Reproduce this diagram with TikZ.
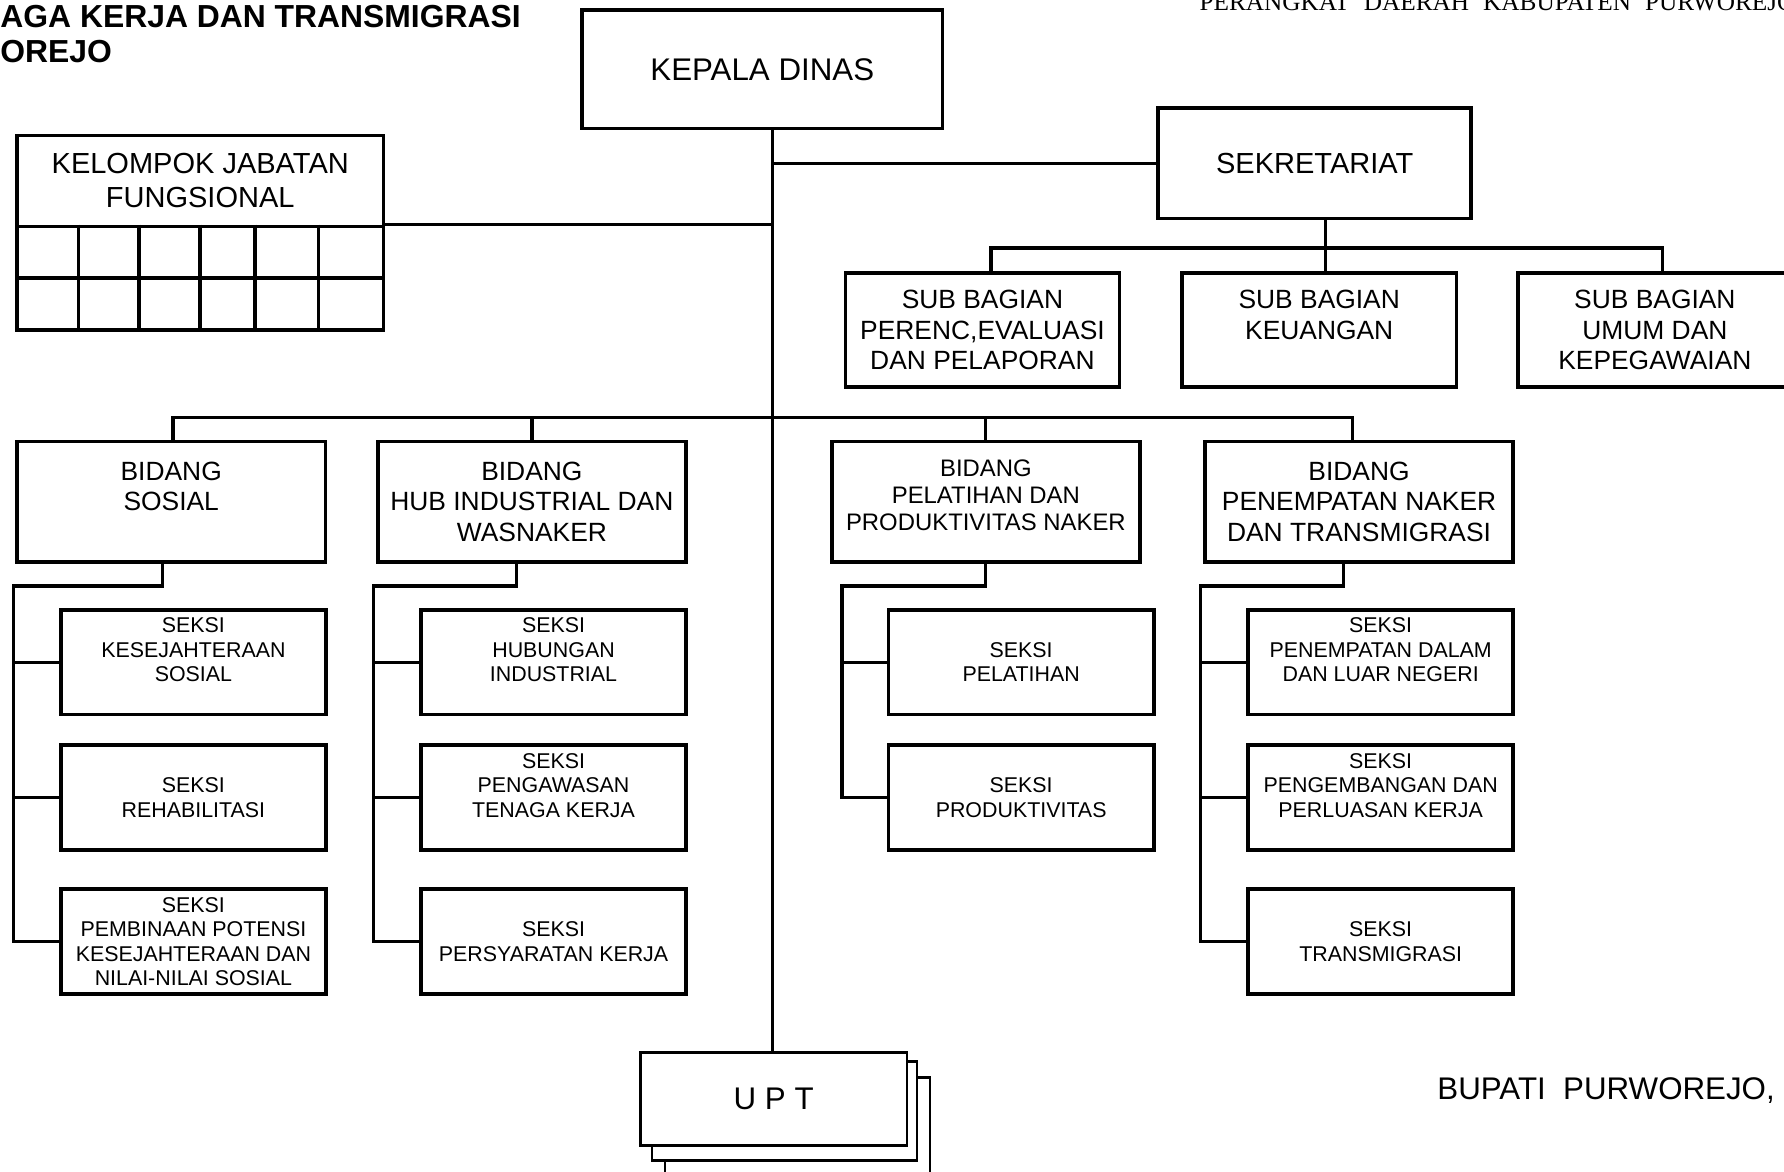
\documentclass[tikz,border=0pt]{standalone}
\usepackage{fontspec}
\setmainfont{Liberation Sans}
\newfontfamily\headserif{Liberation Serif}
\newcommand\headfont{\headserif\fontsize{11.1}{13}\selectfont\spaceskip 6.2pt\relax}
\tikzset{
	box/.style = {
		draw=black,
		fill=white,
		rectangle,
		align=center,
		inner sep=0pt,
		line width=1.6pt
	},
	box_top/.style = {
		box,
		font=\fontsize{13.75}{15}\selectfont,
		minimum width=158.5pt,
		minimum height=52pt
	},
	box_sek/.style = {
		box,
		font=\fontsize{12.75}{15}\selectfont,
		minimum width=137.5pt,
		minimum height=48.5pt
	},
	box_fungsi/.style = {
		box,
		font=\fontsize{12.75}{15}\selectfont,
		minimum width=161pt,
		minimum height=40pt
	},
	box_grid/.style = {
		box,
		minimum width=161pt,
		minimum height=45.5pt
	},
	grid_line/.style = {
		line width=1.6pt
	},
	box_sub/.style = {
		box,
		font=\fontsize{11.6}{13.5}\selectfont,
		minimum width=120.5pt,
		minimum height=50pt
	},
	box_bidang/.style = {
		box,
		font=\fontsize{11.6}{13.5}\selectfont,
		minimum width=135.5pt,
		minimum height=53pt
	},
	box_bidang_small/.style = {
		box_bidang,
		font=\fontsize{10.5}{11.75}\selectfont
	},
	box_seksi/.style = {
		box,
		font=\fontsize{9.4}{10.75}\selectfont,
		minimum width=116.5pt,
		minimum height=46pt
	},
	box_upt/.style = {
		box,
		line width=1.1pt,
		font=\fontsize{13.75}{15}\selectfont,
		minimum width=117pt,
		minimum height=41pt
	},
	box_upt_back/.style = {
		box_upt,
		minimum width=116.5pt,
		minimum height=43.5pt
	},
	link/.style = {
		line width=1.4pt
	},
	title_text/.style = {
		align=left,
		inner sep=0pt,
		font=\bfseries\fontsize{14}{15.5}\selectfont
	},
	head_text/.style = {
		inner sep=0pt,
		font=\headfont
	},
	sign_text/.style = {
		inner sep=0pt,
		font=\fontsize{13.75}{15}\selectfont
	},
}

\begin{document}
\begin{tikzpicture}[x=0.5pt, y=-0.5pt]
\useasboundingbox (0,0) rectangle (1568,1030);

% kop
\node [title_text, anchor=north west] (judul) at (0,4) {AGA KERJA DAN TRANSMIGRASI\\OREJO};
\node [head_text, anchor=base west] (perangkat) at (1054,9) {PERANGKAT DAERAH KABUPATEN PURWOREJO};

% pimpinan
\node [box_top] (kepala) at (670,61) {KEPALA DINAS};
\node [box_sek] (sekretariat) at (1155.5,143.5) {SEKRETARIAT};
\node [box_fungsi] (fungsional) at (176,159) {KELOMPOK JABATAN\\FUNGSIONAL};
\node [box_grid] (fungsional_grid) at (176,244.5) {};
\foreach \cx in {69,122,176,224,280}
	\draw [grid_line] (\cx,0 |- fungsional_grid.north) -- (\cx,0 |- fungsional_grid.south);
\draw [grid_line] (fungsional_grid.west) -- (fungsional_grid.east);

% sub bagian
\node [box_sub] (sb_renc) at (863.5,290) {SUB BAGIAN\\PERENC,EVALUASI\\DAN PELAPORAN};
\node [box_sub] (sb_keu) at (1159.5,290) {SUB BAGIAN\\KEUANGAN\\\mbox{}};
\node [box_sub] (sb_umum) at (1454.5,290) {SUB BAGIAN\\UMUM DAN\\KEPEGAWAIAN};

% bidang
\node [box_bidang] (bid_sos) at (150.5,441) {BIDANG\\SOSIAL\\\mbox{}};
\node [box_bidang] (bid_hub) at (467.5,441) {BIDANG\\HUB INDUSTRIAL DAN\\WASNAKER};
\node [box_bidang_small] (bid_lat) at (866.5,441) {BIDANG\\PELATIHAN DAN\\PRODUKTIVITAS NAKER\\[-6pt]\mbox{}};
\node [box_bidang] (bid_pen) at (1194.5,441) {BIDANG\\PENEMPATAN NAKER\\DAN TRANSMIGRASI};

% seksi
\node [box_seksi] (sk_kesos) at (170,582) {SEKSI\\KESEJAHTERAAN\\SOSIAL\\\mbox{}};
\node [box_seksi] (sk_rehab) at (170,701) {SEKSI\\REHABILITASI};
\node [box_seksi] (sk_potensi) at (170,827.5) {SEKSI\\PEMBINAAN POTENSI\\KESEJAHTERAAN DAN\\NILAI-NILAI SOSIAL};
\node [box_seksi] (sk_hi) at (486.5,582) {SEKSI\\HUBUNGAN\\INDUSTRIAL\\\mbox{}};
\node [box_seksi] (sk_was) at (486.5,701) {SEKSI\\PENGAWASAN\\TENAGA KERJA\\\mbox{}};
\node [box_seksi] (sk_syarat) at (486.5,827.5) {SEKSI\\PERSYARATAN KERJA};
\node [box_seksi] (sk_lat) at (897.5,582) {SEKSI\\PELATIHAN};
\node [box_seksi] (sk_prod) at (897.5,701) {SEKSI\\PRODUKTIVITAS};
\node [box_seksi] (sk_lln) at (1213.5,582) {SEKSI\\PENEMPATAN DALAM\\DAN LUAR NEGERI\\\mbox{}};
\node [box_seksi] (sk_pkk) at (1213.5,701) {SEKSI\\PENGEMBANGAN DAN\\PERLUASAN KERJA\\\mbox{}};
\node [box_seksi] (sk_trans) at (1213.5,827.5) {SEKSI\\TRANSMIGRASI};

% upt
\node [box_upt_back] (upt_c) at (701,990.5) {};
\node [box_upt_back] (upt_b) at (689.5,976.5) {};
\node [box_upt] (upt) at (680,966) {U P T};

\node [sign_text, anchor=base west] (bupati) at (1263,966) {BUPATI\ \ PURWOREJO,};

% garis
\coordinate (spine) at (679,367);
\draw [link] (kepala.south -| spine) -- (upt.north -| spine);
\draw [link] (spine |- sekretariat.west) -- (sekretariat.west);
\draw [link] (fungsional_grid.north east) -- (spine |- fungsional_grid.north east);

\coordinate (sek_l) at (871,218);
\coordinate (sek_m) at (1165,218);
\coordinate (sek_r) at (1461,218);
\draw [link] (sek_l |- sb_renc.north) -- (sek_l) -- (sek_r) -- (sek_r |- sb_umum.north);
\draw [link] (sek_m |- sekretariat.south) -- (sek_m |- sb_keu.north);

\coordinate (bar_l) at (152,367);
\coordinate (bar_r) at (1189,367);
\draw [link] (bar_l |- bid_sos.north) -- (bar_l) -- (bar_r) -- (bar_r |- bid_pen.north);
\draw [link] (bid_hub.north) -- (bid_hub.north |- bar_l);
\draw [link] (bid_lat.north) -- (bid_lat.north |- bar_l);

% cabang seksi
\coordinate (sos_stub) at (143,515);
\coordinate (sos_rail) at (12,515);
\draw [link] (sos_stub |- bid_sos.south) -- (sos_stub) -- (sos_rail) |- (sk_potensi.west);
\draw [link] (sos_rail |- sk_kesos.west) -- (sk_kesos.west);
\draw [link] (sos_rail |- sk_rehab.west) -- (sk_rehab.west);

\coordinate (hub_stub) at (454,515);
\coordinate (hub_rail) at (328,515);
\draw [link] (hub_stub |- bid_hub.south) -- (hub_stub) -- (hub_rail) |- (sk_syarat.west);
\draw [link] (hub_rail |- sk_hi.west) -- (sk_hi.west);
\draw [link] (hub_rail |- sk_was.west) -- (sk_was.west);

\coordinate (lat_stub) at (866,515);
\coordinate (lat_rail) at (740,515);
\draw [link] (lat_stub |- bid_lat.south) -- (lat_stub) -- (lat_rail) |- (sk_prod.west);
\draw [link] (lat_rail |- sk_lat.west) -- (sk_lat.west);

\coordinate (pen_stub) at (1181,515);
\coordinate (pen_rail) at (1055,515);
\draw [link] (pen_stub |- bid_pen.south) -- (pen_stub) -- (pen_rail) |- (sk_trans.west);
\draw [link] (pen_rail |- sk_lln.west) -- (sk_lln.west);
\draw [link] (pen_rail |- sk_pkk.west) -- (sk_pkk.west);
\end{tikzpicture}
\end{document}
